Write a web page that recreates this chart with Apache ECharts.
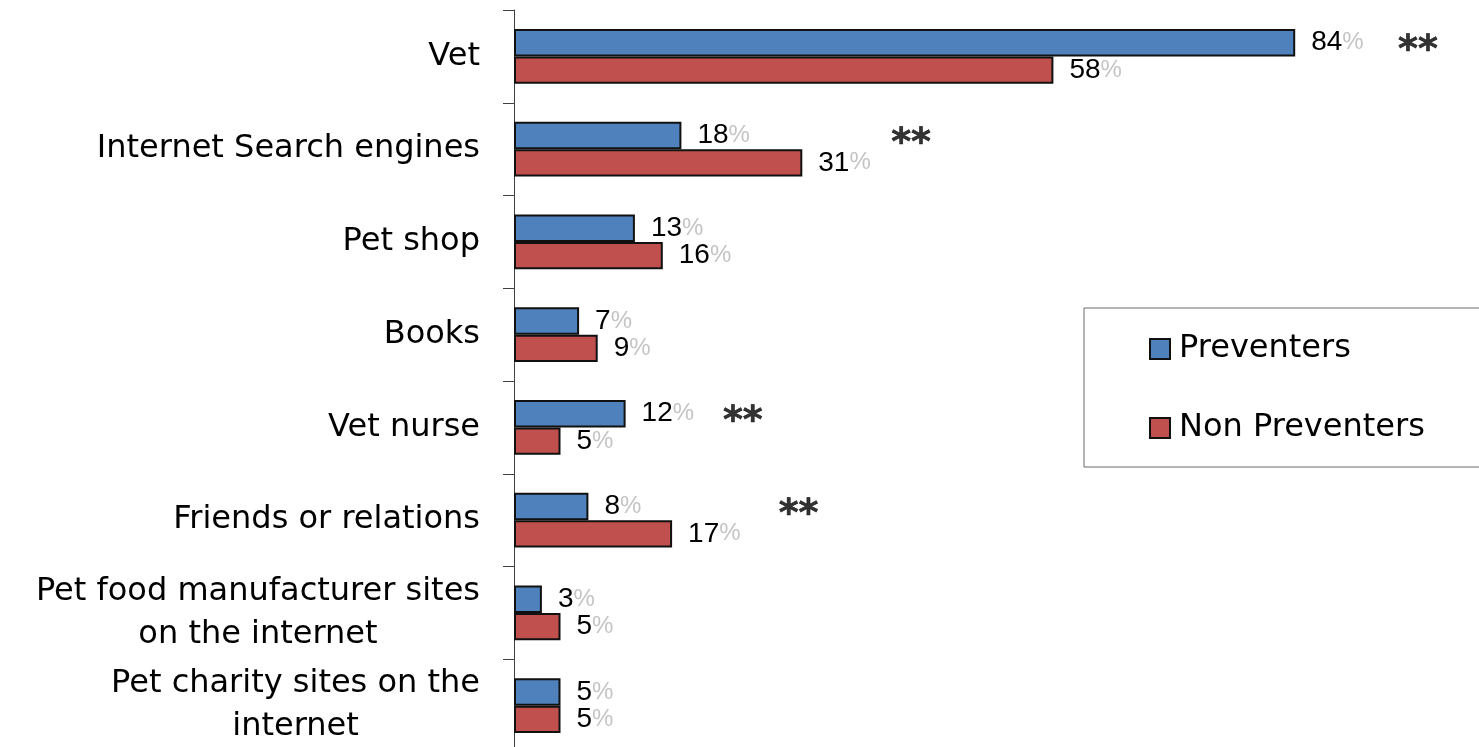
<!DOCTYPE html>
<html>
<head>
<meta charset="utf-8">
<script src="https://cdn.jsdelivr.net/npm/echarts@6/dist/echarts.min.js"></script>
<style>
html,body{margin:0;padding:0;background:#fff;}
#chart{width:1479px;height:747px;}
</style>
</head>
<body>
<div id="chart"></div>
<script>
const categories = [
  'Vet',
  'Internet Search engines',
  'Pet shop',
  'Books',
  'Vet nurse',
  'Friends or relations',
  'Pet food manufacturer sites\non the internet',
  'Pet charity sites on the\ninternet'
];
const preventers = [84, 18, 13, 7, 12, 8, 3, 5];
const nonPreventers = [58, 31, 16, 9, 5, 17, 5, 5];
const seriesNames = ['Preventers', 'Non Preventers'];
// significance markers: [category, x position in value units]
const sigCategories = ['Vet', 'Internet Search engines', 'Vet nurse', 'Friends or relations'];
const sigPositions = [97.2, 42.7, 24.6, 30.6];
const sigText = '**';

const FONT = 'DejaVu Sans';
const chart = echarts.init(document.getElementById('chart'));

const valueLabel = {
  show: true,
  position: 'right',
  distance: 16,
  formatter: p => '{v|' + p.value + '}{p|%}',
  rich: {
    v: { fontFamily: 'Liberation Sans', fontSize: 28, color: '#000' },
    p: { fontFamily: 'Liberation Sans', fontSize: 24, color: '#c4c4c4' }
  }
};

chart.setOption({
  animation: false,
  grid: { left: 514, top: 10, width: 930, height: 742, containLabel: false, outerBoundsMode: 'none' },
  xAxis: {
    type: 'value', min: 0, max: 100,
    show: false
  },
  yAxis: {
    type: 'category',
    data: categories,
    inverse: true,
    axisLine: { show: true, lineStyle: { color: '#404040', width: 1 } },
    axisTick: { show: true, length: 11, lineStyle: { color: '#404040' } },
    axisLabel: {
      margin: 34,
      formatter: v => v.split('\n').map(l => '{c|' + l + '}').join('\n'),
      rich: {
        c: { fontFamily: FONT, fontSize: 32, color: '#000', align: 'center', lineHeight: 43 }
      }
    }
  },
  legend: {
    orient: 'vertical',
    left: 1084, top: 308,
    padding: [25, 80, 23, 65],
    itemGap: 47,
    itemWidth: 20, itemHeight: 20,
    icon: 'rect',
    borderColor: '#6b6b6b', borderWidth: 1,
    data: seriesNames,
    textStyle: { fontFamily: FONT, fontSize: 32, color: '#000', padding: [0, 0, 0, 4] }
  },
  series: [
    {
      name: seriesNames[0], type: 'bar', data: preventers,
      barGap: '0%', barCategoryGap: '41%',
      itemStyle: { color: '#4F81BD', borderColor: '#111', borderWidth: 2 },
      label: valueLabel
    },
    {
      name: seriesNames[1], type: 'bar', data: nonPreventers,
      itemStyle: { color: '#C0504D', borderColor: '#111', borderWidth: 2 },
      label: valueLabel
    },
    {
      name: 'sig', type: 'scatter', symbol: 'circle', symbolSize: 2,
      itemStyle: { color: 'rgba(255,255,255,0)' },
      data: sigCategories.map((c, i) => [sigPositions[i], c]),
      label: {
        show: true, position: 'top', distance: 0, offset: [0, 15],
        formatter: sigText,
        fontFamily: FONT, fontWeight: 'bold', fontSize: 38, color: '#000',
        textBorderColor: '#000', textBorderWidth: 0.6
      },
      silent: true
    }
  ]
});
</script>
</body>
</html>
